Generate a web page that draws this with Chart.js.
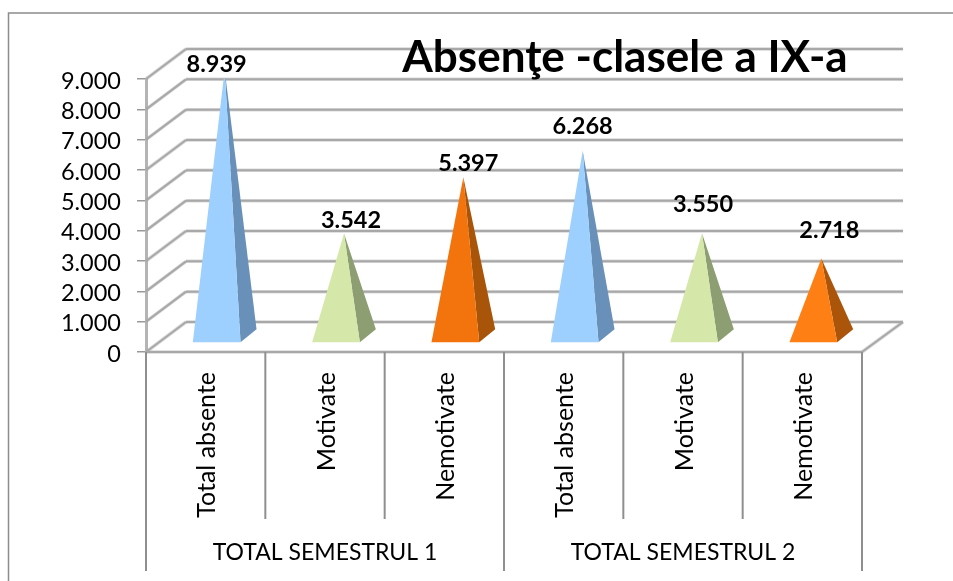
<!DOCTYPE html>
<html>
<head>
<meta charset="utf-8">
<title>Absențe</title>
<script src="https://cdn.jsdelivr.net/npm/chart.js@4"></script>
<style>
    html, body { margin: 0; padding: 0; background: #fff; }
    canvas { display: block; filter: blur(0.4px); }
</style>
</head>
<body>
<canvas id="chart" width="953" height="581"></canvas>
<script>
// Date
const categories = ['Total absente', 'Motivate', 'Nemotivate', 'Total absente', 'Motivate', 'Nemotivate'];
const groups = ['TOTAL SEMESTRUL 1', 'TOTAL SEMESTRUL 2'];
const absences = [8939, 3542, 5397, 6268, 3550, 2718];
const frontColors = ['#9dd0fe', '#d5e8a9', '#f3740d', '#9dd0fe', '#d5e8a9', '#fe7f13'];
const sideColors = ['#6890b8', '#8c9e72', '#a85409', '#6890b8', '#8c9e72', '#aa5509'];
const titleText = 'Absenţe -clasele a IX-a';

const FONT = 'Lato, Carlito, "Open Sans", sans-serif';
const GRID = '#a8a8a8';
// adancimea peretelui din spate
const DEPTH_X = 40;
const DEPTH_Y = -30;
// cat de sus sta fiecare eticheta fata de varful piramidei
const labelGap = [5, 13, 14, 24, 29, 28];
const labelShift = [0, 15, 13, 8, 9, 16];

function dotted(v) {
    return String(v).replace(/\B(?=(\d{3})+$)/g, '.');
}

// Piramida in loc de bara
class PyramidElement extends Chart.BarElement {
    static id = 'pyramid';
    draw(ctx) {
        const { x, y, base, width } = this.getProps(['x', 'y', 'base', 'width']);
        const left = x + 11 - width / 2;
        const right = left + width;
        const floor = base - 9;
        const tipX = left + width / 2 + 8;
        const tipY = y - 11;
        ctx.save();
        ctx.fillStyle = this.options.borderColor;
        ctx.beginPath();
        ctx.moveTo(right, floor);
        ctx.lineTo(right + 16, floor - 13);
        ctx.lineTo(tipX, tipY);
        ctx.closePath();
        ctx.fill();
        ctx.fillStyle = this.options.backgroundColor;
        ctx.beginPath();
        ctx.moveTo(left, floor);
        ctx.lineTo(right, floor);
        ctx.lineTo(tipX, tipY);
        ctx.closePath();
        ctx.fill();
        ctx.restore();
    }
}

class PyramidController extends Chart.BarController {
    static id = 'pyramid';
    static defaults = { dataElementType: 'pyramid' };
}

Chart.register(PyramidElement, PyramidController);

function softLine(ctx, x1, y1, x2, y2) {
    ctx.strokeStyle = 'rgba(168,168,168,0.45)';
    ctx.lineWidth = 3.5;
    ctx.beginPath();
    ctx.moveTo(x1, y1);
    ctx.lineTo(x2, y2);
    ctx.stroke();
    ctx.strokeStyle = GRID;
    ctx.lineWidth = 2;
    ctx.beginPath();
    ctx.moveTo(x1, y1);
    ctx.lineTo(x2, y2);
    ctx.stroke();
}

// Peretele din spate, podeaua si separatoarele de pe axa
const wallPlugin = {
    id: 'wall',
    beforeDatasetsDraw(chart) {
        const { ctx, chartArea: area, scales: { x, y } } = chart;
        ctx.save();
        y.ticks.forEach(tick => {
            const py = y.getPixelForValue(tick.value);
            softLine(ctx, area.left, py, area.left + DEPTH_X, py + DEPTH_Y);
            softLine(ctx, area.left + DEPTH_X, py + DEPTH_Y, area.right + DEPTH_X + 1, py + DEPTH_Y);
        });
        softLine(ctx, area.left, area.bottom, area.right, area.bottom);
        softLine(ctx, area.right, area.bottom, area.right + DEPTH_X + 1, area.bottom + DEPTH_Y);

        const step = (area.right - area.left) / categories.length;
        ctx.strokeStyle = '#8f8f8f';
        ctx.lineWidth = 2;
        categories.forEach((c, i) => {
            const sep = x.getPixelForValue(i) - step / 2;
            const long = i % 3 === 0;
            ctx.beginPath();
            ctx.moveTo(sep, area.bottom);
            ctx.lineTo(sep, long ? 571 : 519);
            ctx.stroke();
        });
        ctx.beginPath();
        ctx.moveTo(area.right, area.bottom);
        ctx.lineTo(area.right, 571);
        ctx.stroke();
        ctx.restore();
    }
};

// Textele: grupe, valori si titlul
const textPlugin = {
    id: 'texts',
    afterDraw(chart) {
        const { ctx, scales: { x } } = chart;
        const meta = chart.getDatasetMeta(0);
        ctx.save();
        ctx.fillStyle = '#000';
        ctx.textBaseline = 'middle';

        // ramul exterior
        ctx.strokeStyle = '#8c8c8c';
        ctx.lineWidth = 1.5;
        ctx.beginPath();
        ctx.moveTo(8.5, 581);
        ctx.lineTo(8.5, 13);
        ctx.lineTo(953, 13);
        ctx.stroke();

        ctx.textAlign = 'center';
        ctx.font = 'bold 44px ' + FONT;
        ctx.fillText(titleText, 625, 58);

        ctx.font = 'bold 23.5px ' + FONT;
        absences.forEach((v, i) => {
            const el = meta.data[i];
            ctx.fillText(dotted(v), el.x + 11 + labelShift[i], el.y - 11 - labelGap[i]);
        });

        ctx.font = '23px ' + FONT;
        groups.forEach((g, i) => {
            const cx = (x.getPixelForValue(i * 3) + x.getPixelForValue(i * 3 + 2)) / 2;
            ctx.fillText(g, cx, 553);
        });
        ctx.restore();
    }
};

new Chart(document.getElementById('chart'), {
    type: 'pyramid',
    data: {
        labels: categories,
        datasets: [{
            data: absences,
            backgroundColor: frontColors,
            borderColor: sideColors,
            borderWidth: 0,
            categoryPercentage: 1,
            barPercentage: 0.4
        }]
    },
    options: {
        responsive: false,
        animation: false,
        layout: { padding: { left: 0, right: 91, top: 79, bottom: 0 } },
        plugins: {
            legend: { display: false },
            title: { display: false },
            tooltip: { enabled: false }
        },
        scales: {
            x: {
                type: 'category',
                offset: true,
                afterFit: scale => { scale.height = 229; },
                border: { display: false },
                grid: { display: false },
                ticks: {
                    autoSkip: false,
                    minRotation: 90,
                    maxRotation: 90,
                    padding: 12,
                    labelOffset: 1.5,
                    color: '#000',
                    font: { family: FONT, size: 25 }
                }
            },
            y: {
                min: 0,
                max: 9000,
                afterFit: scale => { scale.width = 146; },
                border: { display: true, color: '#b4b4b4', width: 3 },
                grid: { drawOnChartArea: false, color: '#999', lineWidth: 1.5, tickLength: 9 },
                ticks: {
                    stepSize: 1000,
                    autoSkip: false,
                    color: '#000',
                    padding: 16,
                    labelOffset: 2,
                    font: { family: FONT, size: 23.5 },
                    callback: v => dotted(v)
                }
            }
        }
    },
    plugins: [wallPlugin, textPlugin]
});
</script>
</body>
</html>
